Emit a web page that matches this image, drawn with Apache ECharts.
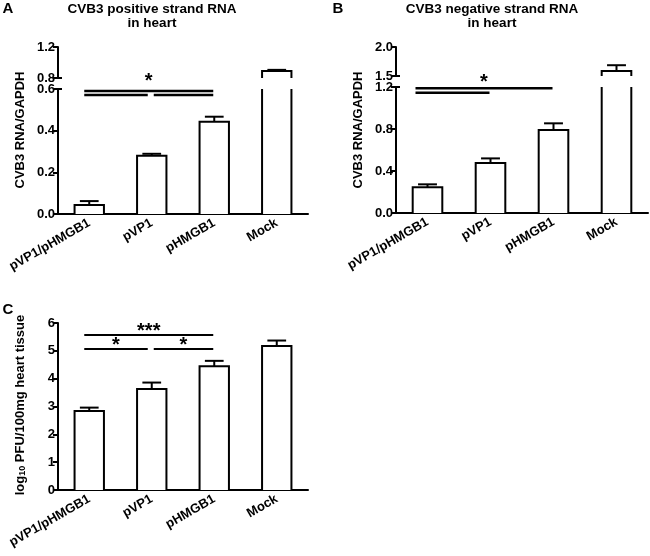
<!DOCTYPE html>
<html><head><meta charset="utf-8">
<script src="https://cdn.jsdelivr.net/npm/echarts@6/dist/echarts.min.js"></script>
<style>html,body{margin:0;padding:0;background:#fff}#c{width:650px;height:556px}</style>
</head><body><div id="c"></div>
<script>
// ---- data ----
const categories = ['pVP1/pHMGB1', 'pVP1', 'pHMGB1', 'Mock'];
const posMean = [0.043, 0.280, 0.443, 0.890];
const posSem  = [0.019, 0.009, 0.024, 0.015];
const negMean = [0.245, 0.476, 0.790, 1.586];
const negSem  = [0.028, 0.044, 0.064, 0.100];
const pfuMean = [2.84, 3.63, 4.45, 5.17];
const pfuSem  = [0.12, 0.23, 0.19, 0.20];
// comparisons: [from group, to group, bracket level, label]
const posSig = [[0, 2, 0.590, '*'], [0, 1, 0.571, ''], [1, 2, 0.571, '']];
const negSig = [[0, 2, 1.188, '*'], [0, 1, 1.146, '']];
const pfuSig = [[0, 2, 5.57, '***'], [0, 1, 5.07, '*'], [1, 2, 5.07, '*']];
// axis ranges [min, max, interval]
const posLow = [0, 0.6, 0.2], posHigh = [0.8, 1.2, 0.4];
const negLow = [0, 1.2, 0.4], negHigh = [1.5, 2.0, 0.5];
const pfuRange = [0, 6, 1];

// ---- styles ----
const FONT = '"Liberation Sans", Arial, Helvetica, sans-serif';
const BLACK = '#000';

const grids = [
  {left: 58, top: 89, width: 250, height: 125},   // A lower
  {left: 58, top: 47, width: 250, height: 31},    // A upper
  {left: 396, top: 87, width: 252, height: 126},  // B lower
  {left: 396, top: 47, width: 252, height: 29},   // B upper
  {left: 58, top: 323, width: 250, height: 167}   // C
].map(g => Object.assign({outerBoundsMode: 'none', containLabel: false}, g));

function xAx(gi, showLine) {
  return {
    type: 'category', gridIndex: gi, data: categories, show: showLine,
    axisLine: {show: showLine, lineStyle: {color: BLACK, width: 2}},
    axisTick: {show: false},
    axisLabel: {show: showLine, interval: 0, rotate: 30, margin: 8,
      color: BLACK, fontFamily: FONT, fontWeight: 'bold', fontSize: 13}
  };
}
function yAx(gi, r, digits) {
  return {
    type: 'value', gridIndex: gi, min: r[0], max: r[1], interval: r[2],
    splitLine: {show: false},
    axisLine: {show: true, lineStyle: {color: BLACK, width: 2}},
    axisTick: {show: true, length: 5, lineStyle: {color: BLACK, width: 2}},
    axisLabel: {margin: 3, color: BLACK, fontFamily: FONT, fontWeight: 'bold', fontSize: 13,
      formatter: v => v.toFixed(digits)}
  };
}
// open-ended bars: the edges that fall outside the axis segment are not drawn
function barSeries(gi, mean) {
  return {
    type: 'custom', xAxisIndex: gi, yAxisIndex: gi, z: 2, silent: true,
    encode: {x: 0, y: 1},
    data: mean.map((v, i) => [i, v]),
    renderItem(params, api) {
      const cs = params.coordSys;
      const bottom = cs.y + cs.height, top = cs.y;
      const p = api.coord([api.value(0), api.value(1)]);
      if (p[1] >= bottom) return null;
      const w = api.size([1, 0])[0] * 0.47;
      const l = p[0] - w / 2, r = p[0] + w / 2;
      const yt = Math.max(p[1], top);
      const st = {stroke: BLACK, lineWidth: 2, fill: null};
      const children = [{type: 'rect', shape: {x: l, y: yt, width: w, height: bottom - yt},
        style: {fill: '#fff', stroke: null}}];
      if (p[1] >= top) {
        children.push({type: 'polyline', shape: {points: [[l, bottom], [l, p[1]], [r, p[1]], [r, bottom]]}, style: st});
      } else {
        children.push({type: 'line', shape: {x1: l, y1: top, x2: l, y2: bottom}, style: st});
        children.push({type: 'line', shape: {x1: r, y1: top, x2: r, y2: bottom}, style: st});
      }
      return {type: 'group', children};
    }
  };
}
function errSeries(gi, mean, sem, min, max) {
  const data = mean.map((m, i) => [i, m, m + sem[i]]).filter(d => d[1] >= min && d[2] <= max);
  return {
    type: 'custom', xAxisIndex: gi, yAxisIndex: gi, z: 3, silent: true,
    encode: {x: 0, y: [1, 2]}, data,
    renderItem(params, api) {
      const x = api.value(0);
      const p0 = api.coord([x, api.value(1)]);
      const p1 = api.coord([x, api.value(2)]);
      const hw = api.size([1, 0])[0] * 0.15;
      const st = {stroke: BLACK, lineWidth: 2};
      return {type: 'group', children: [
        {type: 'line', shape: {x1: p0[0], y1: p0[1], x2: p1[0], y2: p1[1]}, style: st},
        {type: 'line', shape: {x1: p0[0] - hw, y1: p1[1], x2: p0[0] + hw, y2: p1[1]}, style: st}
      ]};
    }
  };
}
// small cross-bar at the broken end of the y axis
function breakSeries(gi, atTop) {
  return {
    type: 'custom', xAxisIndex: gi, yAxisIndex: gi, z: 5, silent: true,
    data: [[0, 0]],
    renderItem(params) {
      const cs = params.coordSys;
      const y = atTop ? cs.y : cs.y + cs.height;
      return {type: 'line', shape: {x1: cs.x - 5, y1: y, x2: cs.x + 4, y2: y},
        style: {stroke: BLACK, lineWidth: 2}};
    }
  };
}
function sigSeries(gi, sig, startInset, starOffset, lw) {
  return {
    type: 'custom', xAxisIndex: gi, yAxisIndex: gi, z: 4, silent: true,
    encode: {x: [0, 1], y: 2},
    data: sig.map(s => [s[0], s[1], s[2]]),
    renderItem(params, api) {
      const s = sig[params.dataIndex];
      const i = s[0], j = s[1], y = s[2];
      const a = api.coord([i, y]);
      const b = api.coord([j, y]);
      const endsAtI = sig.some(o => o !== s && o[2] === y && o[1] === i);
      const startsAtJ = sig.some(o => o !== s && o[2] === y && o[0] === j);
      const x1 = a[0] + (endsAtI ? 2 : startInset);
      const x2 = b[0] + (startsAtJ ? -4 : -1);
      const children = [{type: 'line', shape: {x1, y1: a[1], x2, y2: a[1]},
        style: {stroke: BLACK, lineWidth: lw}}];
      if (s[3]) {
        children.push({type: 'text', x: (x1 + x2) / 2, y: a[1] - starOffset,
          style: {text: s[3], fill: BLACK, font: 'bold 20px ' + FONT, align: 'center', verticalAlign: 'middle'}});
      }
      return {type: 'group', children};
    }
  };
}

const txt = (text, x, y, size, extra) => Object.assign({
  type: 'text', x, y,
  style: {text, fill: BLACK, font: 'bold ' + size + 'px ' + FONT, align: 'center', verticalAlign: 'middle'}
}, extra || {});

const option = {
  animation: false,
  backgroundColor: '#fff',
  grid: grids,
  xAxis: [xAx(0, true), xAx(1, false), xAx(2, true), xAx(3, false), xAx(4, true)],
  yAxis: [yAx(0, posLow, 1), yAx(1, posHigh, 1), yAx(2, negLow, 1), yAx(3, negHigh, 1), yAx(4, pfuRange, 0)],
  series: [
    barSeries(0, posMean), errSeries(0, posMean, posSem, posLow[0], posLow[1]),
    barSeries(1, posMean), errSeries(1, posMean, posSem, posHigh[0], posHigh[1]),
    barSeries(2, negMean), errSeries(2, negMean, negSem, negLow[0], negLow[1]),
    barSeries(3, negMean), errSeries(3, negMean, negSem, negHigh[0], negHigh[1]),
    barSeries(4, pfuMean), errSeries(4, pfuMean, pfuSem, pfuRange[0], pfuRange[1]),
    breakSeries(0, true), breakSeries(1, false), breakSeries(2, true), breakSeries(3, false),
    sigSeries(0, posSig, -5, 10, 2.5),
    sigSeries(2, negSig, -12, 6, 2.5),
    sigSeries(4, pfuSig, -5, 3, 2)
  ],
  graphic: [
    txt('A', 8, 9, 15),
    txt('B', 338, 9, 15),
    txt('C', 8, 310, 15),
    txt('CVB3 positive strand RNA', 152, 9, 13.5),
    txt('in heart', 152, 23, 13.5),
    txt('CVB3 negative strand RNA', 492, 9, 13.5),
    txt('in heart', 492, 23, 13.5),
    txt('CVB3 RNA/GAPDH', 20, 130, 13, {rotation: Math.PI / 2}),
    txt('CVB3 RNA/GAPDH', 358, 130, 13, {rotation: Math.PI / 2}),
    {type: 'text', x: 20, y: 405, rotation: Math.PI / 2,
      style: {text: '{a|log}{s|10}{a| PFU/100mg heart tissue}', fill: BLACK, align: 'center', verticalAlign: 'middle',
        rich: {a: {font: 'bold 13px ' + FONT, fill: BLACK},
               s: {font: 'bold 9px ' + FONT, fill: BLACK, padding: [6, 0, 0, 0]}}}}
  ]
};
echarts.init(document.getElementById('c'), null, {renderer: 'canvas'}).setOption(option);
</script>
</body></html>
